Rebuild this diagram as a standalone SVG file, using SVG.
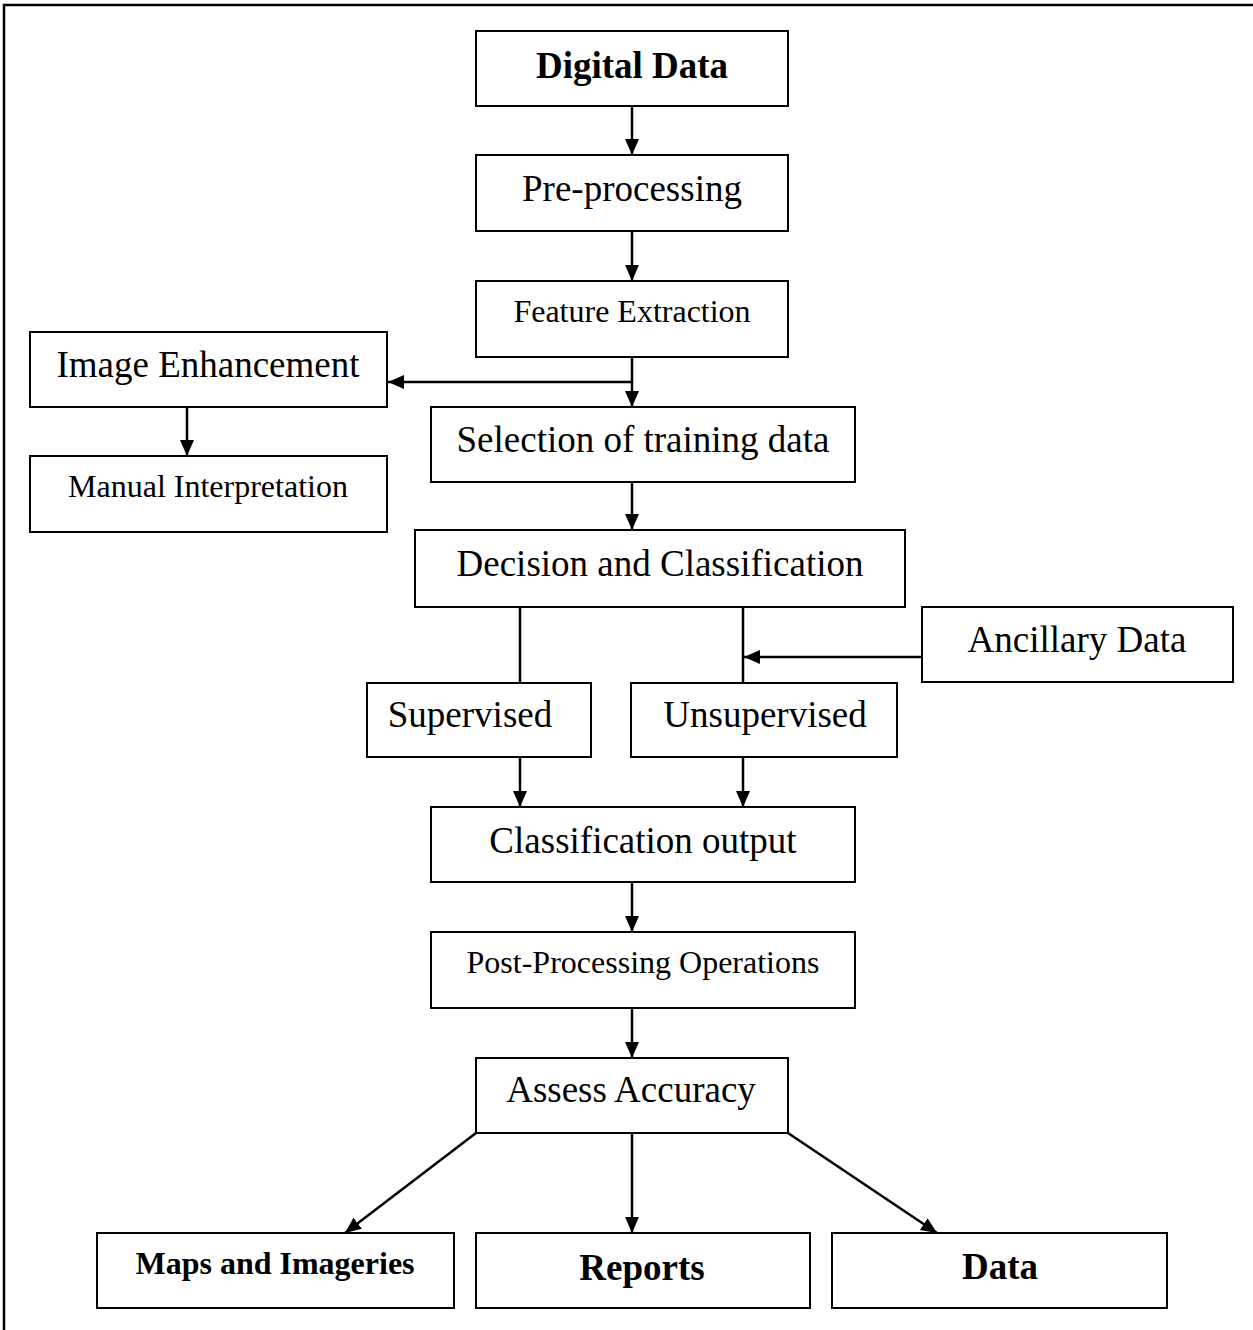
<svg xmlns="http://www.w3.org/2000/svg" width="1253" height="1330" viewBox="0 0 1253 1330">
  <style>
    .box { fill: #fff; stroke: #000; stroke-width: 2; }
    .t { font-family: "Liberation Serif", "Times New Roman", serif; fill: #000; text-anchor: middle; }
    .l { font-size: 37px; }
    .s { font-size: 32px; }
    .b { font-weight: bold; }
    .ln { fill: none; stroke: #000; stroke-width: 2.5; }
    .ar { fill: none; stroke: #000; stroke-width: 2.5; marker-end: url(#head); }
  </style>
  <defs>
    <marker id="head" markerUnits="userSpaceOnUse" markerWidth="18" markerHeight="16" refX="16" refY="7" orient="auto">
      <path d="M0,0 L16,7 L0,14 z" fill="#000"/>
    </marker>
  </defs>

  <!-- page frame -->
  <g id="frame">
    <path class="ln" d="M4,1330 V5 H1253"/>
  </g>

  <!-- connectors -->
  <g id="connectors">
    <path class="ar" d="M632,106 V155"/>
    <path class="ar" d="M632,231 V281"/>
    <path class="ar" d="M632,357 V407"/>
    <path class="ar" d="M632,382 H388"/>
    <path class="ar" d="M187,407 V456"/>
    <path class="ar" d="M632,482 V530"/>
    <path class="ln" d="M520,607 V683"/>
    <path class="ln" d="M743,607 V683"/>
    <path class="ar" d="M922,657 H744"/>
    <path class="ar" d="M520,757 V807"/>
    <path class="ar" d="M743,757 V807"/>
    <path class="ar" d="M632,882 V932"/>
    <path class="ar" d="M632,1008 V1058"/>
    <path class="ar" d="M476,1133 L345,1233"/>
    <path class="ar" d="M632,1133 V1233"/>
    <path class="ar" d="M788,1133 L937,1233"/>
  </g>

  <g id="digital-data">
    <rect class="box" x="476" y="31" width="312" height="75"/>
    <text class="t l b" x="632" y="78">Digital Data</text>
  </g>
  <g id="pre-processing">
    <rect class="box" x="476" y="155" width="312" height="76"/>
    <text class="t l" x="632" y="201">Pre-processing</text>
  </g>
  <g id="feature-extraction">
    <rect class="box" x="476" y="281" width="312" height="76"/>
    <text class="t s" x="632" y="322">Feature Extraction</text>
  </g>
  <g id="image-enhancement">
    <rect class="box" x="30" y="332" width="357" height="75"/>
    <text class="t l" x="208" y="377">Image Enhancement</text>
  </g>
  <g id="manual-interpretation">
    <rect class="box" x="30" y="456" width="357" height="76"/>
    <text class="t s" x="208" y="497">Manual Interpretation</text>
  </g>
  <g id="selection-training">
    <rect class="box" x="431" y="407" width="424" height="75"/>
    <text class="t l" x="643" y="452">Selection of training data</text>
  </g>
  <g id="decision-classification">
    <rect class="box" x="415" y="530" width="490" height="77"/>
    <text class="t l" x="660" y="576">Decision and Classification</text>
  </g>
  <g id="ancillary-data">
    <rect class="box" x="922" y="607" width="311" height="75"/>
    <text class="t l" x="1077" y="652">Ancillary Data</text>
  </g>
  <g id="supervised">
    <rect class="box" x="367" y="683" width="224" height="74"/>
    <text class="t l" x="470" y="727">Supervised</text>
  </g>
  <g id="unsupervised">
    <rect class="box" x="631" y="683" width="266" height="74"/>
    <text class="t l" x="765" y="727">Unsupervised</text>
  </g>
  <g id="classification-output">
    <rect class="box" x="431" y="807" width="424" height="75"/>
    <text class="t l" x="643" y="853">Classification output</text>
  </g>
  <g id="post-processing">
    <rect class="box" x="431" y="932" width="424" height="76"/>
    <text class="t s" x="643" y="973">Post-Processing Operations</text>
  </g>
  <g id="assess-accuracy">
    <rect class="box" x="476" y="1058" width="312" height="75"/>
    <text class="t l" x="631" y="1102">Assess Accuracy</text>
  </g>
  <g id="maps-imageries">
    <rect class="box" x="97" y="1233" width="357" height="75"/>
    <text class="t s b" x="275" y="1274">Maps and Imageries</text>
  </g>
  <g id="reports">
    <rect class="box" x="476" y="1233" width="334" height="75"/>
    <text class="t l b" x="642" y="1280">Reports</text>
  </g>
  <g id="data">
    <rect class="box" x="832" y="1233" width="335" height="75"/>
    <text class="t l b" x="1000" y="1279">Data</text>
  </g>
</svg>
